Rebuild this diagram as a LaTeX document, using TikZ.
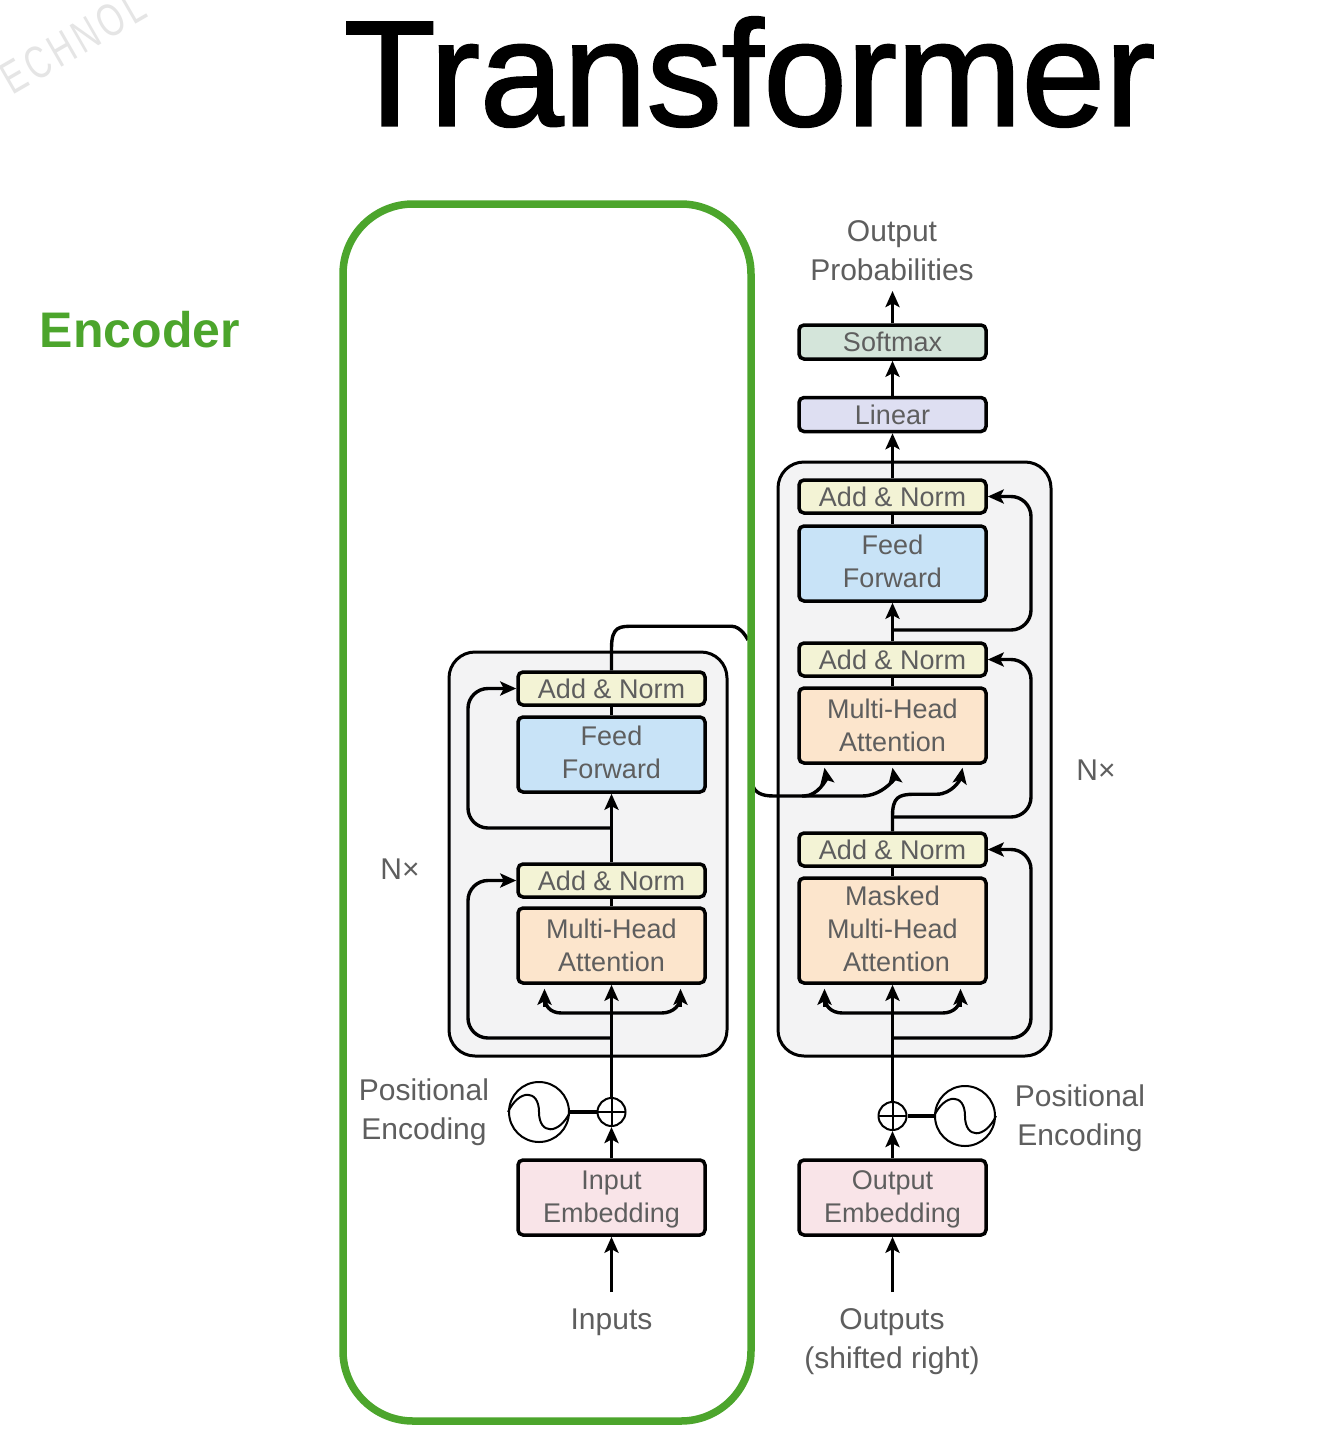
\documentclass[tikz,border=0pt]{standalone}
\usepackage{fontspec}
\setmainfont{Liberation Sans}
\newfontfamily\titlefont[FakeBold=1.6]{Liberation Sans}
\usetikzlibrary{arrows.meta,calc}
\definecolor{txt}{HTML}{5E5E5E}
\definecolor{grn}{HTML}{4CA52C}
\definecolor{cnorm}{HTML}{F3F3D5}
\definecolor{cff}{HTML}{C8E3F7}
\definecolor{cmha}{HTML}{FCE5CC}
\definecolor{cemb}{HTML}{F9E4E8}
\definecolor{csoft}{HTML}{D4E5DA}
\definecolor{clin}{HTML}{DEDFF2}
\definecolor{cpanel}{HTML}{F3F3F4}
\tikzset{
  lbl/.style={text=txt,font=\fontsize{30}{39}\selectfont,align=center,inner sep=0pt},
  blk/.style={draw=black,line width=3.5pt,rounded corners=5pt,minimum width=187pt,inner sep=0pt,
     text=txt,font=\fontsize{27}{33}\selectfont,align=center},
  raised/.style={text depth=4pt},
  lowered/.style={text height=56pt},
  panel/.style={draw=black,line width=3pt,rounded corners=26pt,fill=cpanel},
  wire/.style={draw=black,line width=3.4pt,rounded corners=20pt},
  arr/.style={wire,-{Stealth[length=16pt,width=14pt,inset=3.5pt]}},
  pluscirc/.style={draw=black,line width=2pt,fill=white,circle,minimum size=28pt,inner sep=0pt,
     path picture={\draw[line width=2pt] (path picture bounding box.north)--(path picture bounding box.south)
       (path picture bounding box.west)--(path picture bounding box.east);}},
  sinecirc/.style={draw=black,line width=2pt,fill=white,circle,minimum size=60pt,inner sep=0pt},
}
\begin{document}
\begin{tikzpicture}[x=1pt,y=-1pt]
\path[use as bounding box,fill=white] (0,0) rectangle (1340,1432);
\begin{scope}
\clip (0,0) rectangle (1340,1432);
\node[rotate=30,text=black!10,font=\fontsize{46}{46}\selectfont,inner sep=0pt,xscale=.72] (wm) at (73,42) {\addfontfeature{LetterSpace=12}ECHNOL};
\end{scope}
% Title and caption
\node[font=\titlefont\fontsize{150}{150}\selectfont,text=black,inner sep=0pt] (title) at (749.5,72) {Transformer};
\node[font=\bfseries\fontsize{50}{50}\selectfont,text=grn,inner sep=0pt] (enc) at (140,330) {Encoder};
% Panels
\draw[panel] (449,652) rectangle (727,1056);
\draw[panel] (778,462) rectangle (1051,1056);
% Encoder blocks
\node[blk,fill=cnorm,minimum height=33pt] (ean2) at (611.5,688.5) {Add \& Norm};
\node[blk,fill=cff,minimum height=75pt,raised] (eff) at (611.5,754.5) {Feed\\Forward};
\node[blk,fill=cnorm,minimum height=33pt] (ean1) at (611.5,880.5) {Add \& Norm};
\node[blk,fill=cmha,minimum height=75pt] (emha) at (611.5,945.5) {Multi-Head\\Attention};
\node[blk,fill=cemb,minimum height=75pt,lowered] (eemb) at (611.5,1197.5) {Input\\Embedding};
% Decoder blocks
\node[blk,fill=csoft,minimum height=34pt] (dsoft) at (892.5,342) {Softmax};
\node[blk,fill=clin,minimum height=34pt] (dlin) at (892.5,414.5) {Linear};
\node[blk,fill=cnorm,minimum height=33pt] (dan3) at (892.5,496.5) {Add \& Norm};
\node[blk,fill=cff,minimum height=75pt,raised] (dff) at (892.5,563.5) {Feed\\Forward};
\node[blk,fill=cnorm,minimum height=33pt] (dan2) at (892.5,659.5) {Add \& Norm};
\node[blk,fill=cmha,minimum height=75pt] (dmha) at (892.5,725.5) {Multi-Head\\Attention};
\node[blk,fill=cnorm,minimum height=33pt] (dan1) at (892.5,849.5) {Add \& Norm};
\node[blk,fill=cmha,minimum height=105pt,raised] (dmask) at (892.5,930.5) {Masked\\Multi-Head\\\hspace*{8pt}Attention};
\node[blk,fill=cemb,minimum height=75pt,lowered] (demb) at (892.5,1197.5) {Output\\Embedding};
% Positional encoding
\node[pluscirc] (eplus) at (611.5,1112) {};
\node[sinecirc] (esine) at (539,1112) {};
\node[pluscirc] (dplus) at (892.5,1116) {};
\node[sinecirc] (dsine) at (965,1116) {};
\foreach \s in {esine,dsine}{
  \draw[line width=2pt] (\s.west) .. controls ($(\s.west)+(11,-23)$) and ($(\s.center)+(0,-23)$) .. (\s.center)
     .. controls ($(\s.center)+(0,23)$) and ($(\s.east)+(-11,23)$) .. (\s.east);
}
\draw[line width=4pt] (esine.east) -- (eplus.west);
\draw[line width=4pt] (dsine.west) -- (dplus.east);
% Labels
\node[lbl] (lout) at (892,251) {Output\\Probabilities};
\node[lbl] (lpe) at (424,1112) {Positional\\Encoding};
\node[lbl] (lpd) at (1080,1118) {Positional\\Encoding};
\node[lbl] (lnl) at (400,869) {N×};
\node[lbl] (lnr) at (1096,770) {N×};
\node[lbl] (lin) at (611.5,1322.5) {Inputs};
\node[lbl] (lop) at (892,1342) {Outputs\\(shifted right)};
% Free-end coordinates
\coordinate (inS) at (611.5,1292);
\coordinate (outS) at (892.5,1292);
\coordinate (outE) at (892.5,291);
\coordinate (eL) at (468,0);
\coordinate (dR) at (1031,0);
\coordinate (ej1) at (611.5,1038);
\coordinate (ej2) at (611.5,828);
\coordinate (ej3) at (611.5,1013);
\coordinate (dj1) at (892.5,1038);
\coordinate (dj2) at (892.5,817);
\coordinate (dj3) at (892.5,630);
\coordinate (dj4) at (892.5,1013);
\coordinate (crossA) at (748,640);
\coordinate (crossB) at (752,783);
% Encoder wires
\draw[arr] (inS) -- (eemb.south);
\draw[arr] (eemb.north) -- (eplus.south);
\draw[arr] (eplus.north) -- (emha.south);
\draw[wire] (emha.north) -- (ean1.south);
\draw[arr] (ean1.north) -- (eff.south);
\draw[wire] (eff.north) -- (ean2.south);
\draw[arr] (ej1) -- (ej1 -| eL) -- (eL |- ean1.west) -- (ean1.west);
\draw[arr] (ej2) -- (ej2 -| eL) -- (eL |- ean2.west) -- (ean2.west);
\draw[wire,rounded corners=0pt] (ej3) -- ($(ej3)+(-50,0)$) .. controls ($(ej3)+(-62,0)$) and ($(ej3)+(-67,-8)$) .. ($(emha.south)+(-67,12)$);
\draw[wire,rounded corners=0pt] (ej3) -- ($(ej3)+(50,0)$) .. controls ($(ej3)+(62,0)$) and ($(ej3)+(69,-8)$) .. ($(emha.south)+(69,12)$);
\foreach \dx in {-67,69}{
  \draw[arr,rounded corners=0pt] ($(emha.south)+(\dx,22)$) -- ($(emha.south)+(\dx,4)$);
}
% Encoder to decoder link (passes behind the green frame)
\draw[wire,rounded corners=0pt] (ean2.north) -- ($(ean2.north)+(0,-22)$)
   .. controls ($(ean2.north)+(0,-44)$) and ($(ean2.north)+(8,-44)$) .. ($(ean2.north)+(22,-44)$)
   -- ($(ean2.north)+(120,-44)$) .. controls ($(ean2.north)+(130,-44)$) and (crossA) .. (crossA);
\draw[arr,rounded corners=0pt] (crossB) .. controls ($(crossB)+(2,10)$) and ($(crossB)+(10,13)$) .. ($(crossB)+(22,13)$)
   -- ($(crossB)+(110,13)$) .. controls ($(crossB)+(130,13)$) and ($(dmha.south)+(2,14)$) .. ($(dmha.south)+(0,3)$);
\draw[arr,rounded corners=0pt] ($(crossB)+(50,13)$) -- ($(crossB)+(52,13)$) .. controls ($(crossB)+(66,13)$) and ($(dmha.south)+(-66,14)$) .. ($(dmha.south)+(-68,3)$);
% Decoder wires
\draw[arr] (outS) -- (demb.south);
\draw[arr] (demb.north) -- (dplus.south);
\draw[arr] (dplus.north) -- (dmask.south);
\draw[wire] (dmask.north) -- (dan1.south);
\draw[wire] (dmha.north) -- (dan2.south);
\draw[arr] (dan2.north) -- (dff.south);
\draw[wire] (dff.north) -- (dan3.south);
\draw[arr] (dan3.north) -- (dlin.south);
\draw[arr] (dlin.north) -- (dsoft.south);
\draw[arr] (dsoft.north) -- (outE);
\draw[arr] (dj1) -- (dj1 -| dR) -- (dR |- dan1.east) -- (dan1.east);
\draw[arr] (dj2) -- (dj2 -| dR) -- (dR |- dan2.east) -- (dan2.east);
\draw[arr] (dj3) -- (dj3 -| dR) -- (dR |- dan3.east) -- (dan3.east);
\draw[wire,rounded corners=0pt] (dj4) -- ($(dj4)+(-50,0)$) .. controls ($(dj4)+(-62,0)$) and ($(dj4)+(-68,-8)$) .. ($(dmask.south)+(-68,12)$);
\draw[wire,rounded corners=0pt] (dj4) -- ($(dj4)+(50,0)$) .. controls ($(dj4)+(62,0)$) and ($(dj4)+(68,-8)$) .. ($(dmask.south)+(68,12)$);
\foreach \dx in {-68,68}{
  \draw[arr,rounded corners=0pt] ($(dmask.south)+(\dx,22)$) -- ($(dmask.south)+(\dx,4)$);
}
% Masked output into third input
\draw[arr,rounded corners=0pt] (dan1.north) -- ($(dan1.north)+(0,-15)$) .. controls ($(dan1.north)+(0,-34)$) and ($(dan1.north)+(6,-37)$) .. ($(dan1.north)+(22,-37)$)
  -- ($(dan1.north)+(44,-37)$) .. controls ($(dan1.north)+(60,-37)$) and ($(dmha.south)+(68,14)$) .. ($(dmha.south)+(70,3)$);
% Green frame on top
\draw[draw=grn,line width=7.5pt,rounded corners=70pt] (343,204) rectangle (751,1421);
\end{tikzpicture}
\end{document}
